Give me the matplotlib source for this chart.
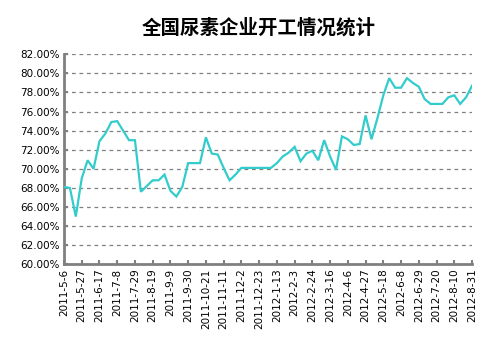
import datetime as dt
import matplotlib
matplotlib.use("Agg")
import matplotlib.pyplot as plt
from matplotlib.ticker import FuncFormatter, MultipleLocator

plt.rcParams['font.family'] = ['Noto Sans CJK SC', 'DejaVu Sans']

# weekly operating rate (%), 2011-5-6 .. 2012-8-31
rates = [
    68.1, 68.0, 65.0, 69.0, 70.9, 70.0, 72.9, 73.7, 74.9, 75.0,
    74.0, 73.0, 73.0, 67.6, 68.2, 68.8, 68.8, 69.4, 67.7, 67.1,
    68.1, 70.6, 70.6, 70.6, 73.3, 71.6, 71.5, 70.1, 68.8, 69.4,
    70.1, 70.1, 70.1, 70.1, 70.1, 70.1, 70.6, 71.3, 71.7, 72.3,
    70.8, 71.6, 71.9, 70.9, 73.0, 71.3, 69.9, 73.4, 73.1, 72.5,
    72.6, 75.6, 73.1, 75.3, 77.7, 79.5, 78.5, 78.5, 79.5, 79.0,
    78.6, 77.3, 76.8, 76.8, 76.8, 77.5, 77.7, 76.8, 77.5, 78.7,
]
start = dt.date(2011, 5, 6)
dates = [start + dt.timedelta(weeks=i) for i in range(len(rates))]
labels = [f"{d.year}-{d.month}-{d.day}" for d in dates]

title = "全国尿素企业开工情况统计"
line_color = "#33CCCC"
grey = "#808080"

fig = plt.figure(figsize=(5.03, 3.51), dpi=100)
ax = fig.add_axes([0.1272, 0.247, 0.8112, 0.5983])

x = list(range(len(rates)))
ax.plot(x, [r / 100 for r in rates], color=line_color, lw=1.6, zorder=3,
        solid_joinstyle="miter")

ax.set_xlim(0, len(rates) - 1)
ax.set_ylim(0.60, 0.82)
ax.yaxis.set_major_locator(MultipleLocator(0.02))
ax.yaxis.set_major_formatter(FuncFormatter(lambda v, p: f"{v * 100:.2f}%"))
ax.grid(axis="y", color=grey, ls=(0, (3, 3)), lw=0.9)

tick_pos = x[::3]
ax.set_xticks(tick_pos)
ax.set_xticklabels([labels[i] for i in tick_pos], rotation=90,
                   fontfamily="DejaVu Sans")
ax.tick_params(axis="both", direction="in", length=3, width=1.5,
               color=grey, labelsize=7.5, pad=3)
for lbl in ax.get_yticklabels():
    lbl.set_fontfamily("DejaVu Sans")

for side in ("top", "right"):
    ax.spines[side].set_visible(False)
for side in ("left", "bottom"):
    ax.spines[side].set_color(grey)
    ax.spines[side].set_linewidth(2)

fig.text(0.5145, 0.922, title, ha="center", va="center", fontsize=14,
         fontweight="bold")

fig.savefig("out.png", dpi=100)
